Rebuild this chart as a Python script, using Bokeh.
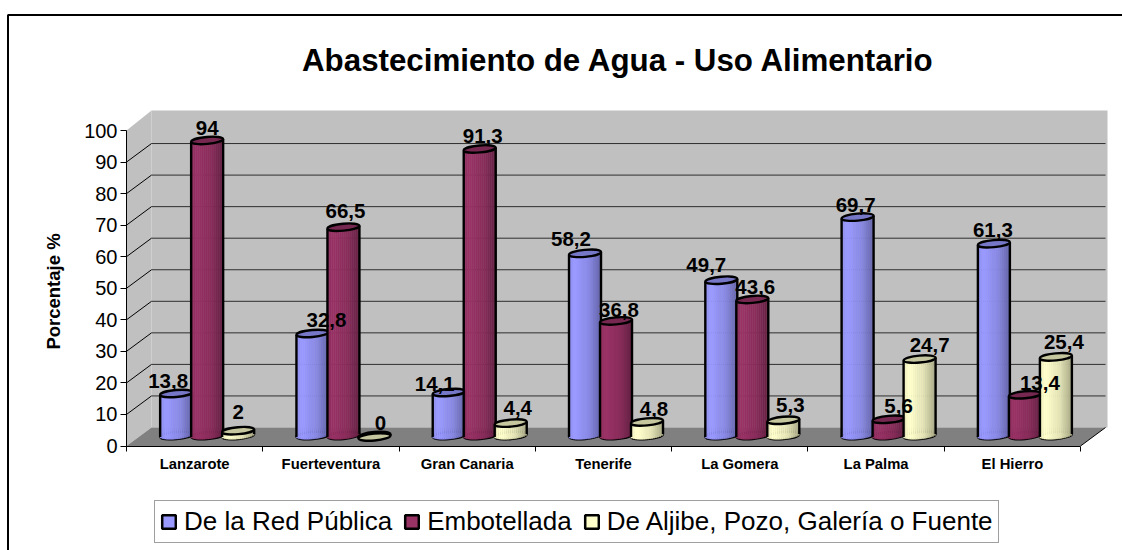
from math import sqrt, pi
from bokeh.plotting import figure
from bokeh.models import Range1d, FixedTicker, Legend, LegendItem, ColumnDataSource
from bokeh.core.properties import value
from bokeh.embed import file_html
from bokeh.resources import INLINE

categories = ["Lanzarote", "Fuerteventura", "Gran Canaria", "Tenerife", "La Gomera", "La Palma", "El Hierro"]
red_publica = [13.8, 32.8, 14.1, 58.2, 49.7, 69.7, 61.3]
embotellada = [94, 66.5, 91.3, 36.8, 43.6, 5.6, 13.4]
aljibe = [2, 0, 4.4, 4.8, 5.3, 24.7, 25.4]
series_names = ["De la Red Pública", "Embotellada", "De Aljibe, Pozo, Galería o Fuente"]
y_ticks = list(range(0, 101, 10))
title_text = "Abastecimiento de Agua - Uso Alimentario"
y_label = "Porcentaje %"

# per-label nudges in pixels (blue, crimson, yellow per category)
label_dx = [[-8, 0, 0], [14, 2, 6], [-14, 3, 7], [-14, 3, 7], [-15, 3, 7], [-2, 10, 10], [-1, 15, 8]]
label_dy = [[-12, -12, -19], [-14, -16, -14.5], [-9, -13, -15], [-14, -11, -13],
            [-15, -12, -15], [-12, -13, -14], [-14, -12, -15]]

# page geometry
W, H = 1122, 550
PAGE = 0
X0_PX, UX = 126.0, 136.29     # x = 0 pixel, pixels per category
Y0_PX, UY = 445.5, 3.155      # y = 0 pixel, pixels per percent
DX, DY = 25.0 / UX, 18.5 / UY  # depth of the 3D box
MX, MY = 12.5 / UX, 9.0 / UY   # cylinders stand mid-depth
BAR_W = 32.0 / UX
STEP = 31.0 / UX
ELL_H = 7.0
BASE_LIFT = 1.5 / UY


def X(px):
    return (px - X0_PX) / UX


def Y(py):
    return (Y0_PX - py) / UY


p = figure(width=W, height=H, output_backend="svg", toolbar_location=None,
           x_range=Range1d(X(PAGE), X(PAGE + W)), y_range=Range1d(Y(PAGE + H), Y(PAGE)),
           min_border=0, min_border_left=0, min_border_right=0, min_border_top=0, min_border_bottom=0,
           outline_line_color=None, background_fill_color="white", border_fill_color="white")
p.xgrid.visible = False
p.ygrid.visible = False

# outer chart border (open at right and bottom)
p.line([X(7.5), X(7.5), X(PAGE + W)], [Y(PAGE + H), Y(14.5), Y(14.5)], line_color="black", line_width=2)

# 3D box
right = 7 + DX
top = 100 + DY
p.patch([0, DX, DX, 0], [0, DY, top + 0.5, 100], fill_color="#C0C0C0", line_color=None)
p.patch([DX, X(1107), X(1107), DX], [DY, DY, top + 0.5, top + 0.5], fill_color="#C0C0C0", line_color=None)
p.patch([0, 7, right, DX], [0, 0, DY, DY], fill_color="#808080", line_color=None)
grid_v = y_ticks[1:-1]
p.segment([DX] * len(grid_v), [v + DY for v in grid_v], [right] * len(grid_v), [v + DY for v in grid_v],
          line_color="#2e2e2e", line_width=1)
p.segment([0] * len(grid_v), grid_v, [DX] * len(grid_v), [v + DY for v in grid_v],
          line_color="black", line_width=1)
# right edge of floor
p.segment([7], [0], [right], [DY], line_color="black", line_width=1)

# cylinders
shade = [0.93, 0.97, 1.0, 1.0, 0.99, 0.97, 0.95, 0.93, 0.92, 0.9, 0.88, 0.84, 0.8, 0.76, 0.72, 0.68]
base_colors = [(0x99, 0x99, 0xFF), (0x99, 0x33, 0x66), (0xFF, 0xFF, 0xCC)]
series = [red_publica, embotellada, aljibe]
TILT = 0.09


def hexc(c, k):
    return "#%02x%02x%02x" % tuple(min(255, int(round(v * k))) for v in c)


def cylinder(cx, val, col):
    base = MY + BASE_LIFT
    topv = val + MY
    semi = (ELL_H / 2) / UY
    n = len(shade)
    lefts, rights, tops, bots, cols = [], [], [], [], []
    for j in range(n):
        a = cx - BAR_W / 2 + BAR_W * j / n
        b = cx - BAR_W / 2 + BAR_W * (j + 1) / n
        t = ((a + b) / 2 - cx) / (BAR_W / 2)
        lefts.append(a)
        rights.append(b)
        tops.append(topv + TILT * t * 16 / UY)
        bots.append(base - semi * sqrt(max(0, 1 - t * t)) + TILT * t * 16 / UY)
        cols.append(hexc(col, shade[j]))
    p.ellipse([cx], [base], width=BAR_W * UX, height=ELL_H, angle=TILT, width_units="screen", height_units="screen",
              fill_color=hexc(col, 0.9), line_color="black", line_width=2.4)
    src = ColumnDataSource(dict(left=lefts, right=rights, top=tops, bottom=bots, c=cols))
    p.quad(left="left", right="right", top="top", bottom="bottom", source=src,
           fill_color="c", line_color="c", line_width=0.5)
    tilt_v = TILT * 16 / UY
    p.segment([cx - BAR_W / 2, cx + BAR_W / 2], [base - tilt_v, base + tilt_v],
              [cx - BAR_W / 2, cx + BAR_W / 2], [topv - tilt_v, topv + tilt_v],
              line_color="black", line_width=2.4)
    p.ellipse([cx], [topv], width=BAR_W * UX, height=ELL_H, angle=TILT, width_units="screen", height_units="screen",
              fill_color=hexc(col, 0.78), line_color="black", line_width=2.4)


lx, ly, lt, ldx, ldy = [], [], [], [], []
for i in range(len(categories)):
    for s in range(3):
        cx = i + 0.5 + MX + (s - 1) * STEP
        v = series[s][i]
        cylinder(cx, v, base_colors[s])
        lx.append(cx)
        ly.append(v + MY)
        lt.append(str(v).replace(".", ",").replace(",0", "") if v != 0 else "0")
        ldx.append(label_dx[i][s])
        ldy.append(label_dy[i][s])

p.text(lx, ly, text=lt, x_offset=ldx, y_offset=ldy, text_font=value("Liberation Sans"), text_font_style="bold",
       text_font_size="20.5px", text_align="center", text_baseline="middle", text_color="black")

# title and y label
p.text([X(618)], [Y(60)], text=[title_text], text_font=value("Liberation Sans"), text_font_style="bold",
       text_font_size="31.3px", text_align="center", text_baseline="middle", text_color="black")
p.text([X(53)], [Y(291)], text=[y_label], angle=pi / 2, text_font=value("Liberation Sans"), text_font_style="bold",
       text_font_size="18.5px", text_align="center", text_baseline="middle", text_color="black")

# axes
ax = p.xaxis[0]
ax.fixed_location = 0
ax.ticker = FixedTicker(ticks=[i + 0.5 for i in range(7)], minor_ticks=list(range(8)))
ax.major_label_overrides = {i + 0.5: c for i, c in enumerate(categories)}
ax.major_tick_out = 0
ax.major_tick_in = 0
ax.minor_tick_out = 5
ax.minor_tick_in = 0
ax.major_tick_line_color = None
ax.minor_tick_line_color = "black"
ax.axis_line_color = "black"
ax.major_label_standoff = 5
ax.major_label_text_font = "Liberation Sans"
ax.major_label_text_font_style = "bold"
ax.major_label_text_font_size = "14.8px"
ax.major_label_text_color = "black"
ax.bounds = (0, 7)

ay = p.yaxis[0]
ay.fixed_location = 0
ay.ticker = FixedTicker(ticks=y_ticks)
ay.major_tick_out = 6
ay.major_tick_in = 0
ay.minor_tick_out = 0
ay.minor_tick_in = 0
ay.axis_line_color = "black"
ay.major_tick_line_color = "black"
ay.major_label_standoff = 3
ay.major_label_text_font = "Liberation Sans"
ay.major_label_text_font_size = "20px"
ay.major_label_text_color = "black"
ay.bounds = (0, 100)

# legend
keys = [p.quad(left=[-50], right=[-49], top=[-50], bottom=[-51], fill_color=hexc(c, 1.0), line_color="black",
               line_width=2.5) for c in base_colors]
legend = Legend(items=[LegendItem(label=n, renderers=[k]) for n, k in zip(series_names, keys)],
                orientation="horizontal", location=(154, 7), glyph_width=17, glyph_height=17,
                label_standoff=7, spacing=11, padding=5, margin=0,
                label_text_font="Liberation Sans", label_text_font_size="26px", label_text_color="black",
                border_line_color="#404040", border_line_width=1, background_fill_alpha=1,
                background_fill_color="white")
p.add_layout(legend, "center")

open("out.html", "w").write(file_html(p, INLINE))
